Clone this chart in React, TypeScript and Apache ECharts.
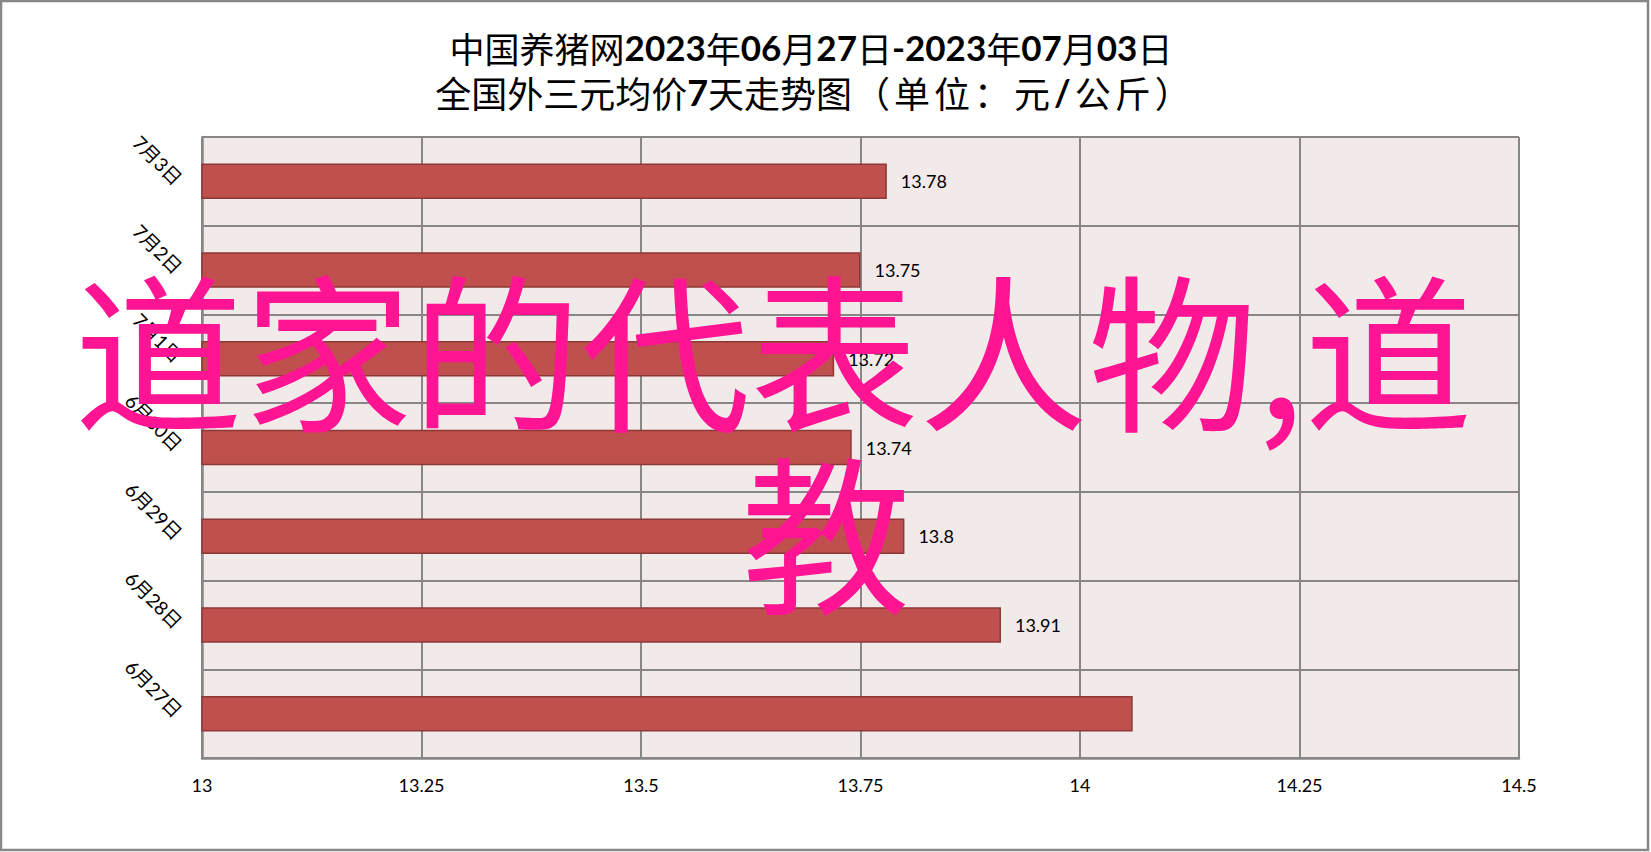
import React, { useEffect, useRef } from "react";
import * as echarts from "echarts";

// ---- data ----
const categories: string[] = ["6月27日", "6月28日", "6月29日", "6月30日", "7月1日", "7月2日", "7月3日"];
const prices: number[] = [14.06, 13.91, 13.8, 13.74, 13.72, 13.75, 13.78];
const hiddenLabelCategories: string[] = ["6月27日"];
const xMin = 13;
const xMax = 14.5;
const xInterval = 0.25;
const titleLine1 = "中国养猪网2023年06月27日-2023年07月03日";
const titleLine2Main = "全国外三元均价7天走势图";
const titleLine2Unit = "（单位：元/公斤）";
const watermarkLines: string[] = ["道家的代表人物,道", "教"];

const LATIN = "Lato, 'Noto Sans CJK SC', sans-serif";
const CJK = "'Noto Sans CJK SC', sans-serif";

function toRich(s: string, spaced = false): string {
  if (spaced) {
    return Array.from(s)
      .map((ch) => (/[0-9\-\/]/.test(ch) ? `{bs|${ch}}` : `{cs|${ch}}`))
      .join("");
  }
  return s.replace(/([0-9\-\/]+)|([^0-9\-\/]+)/g, (m, a) => (a ? `{b|${m}}` : `{c|${m}}`));
}

export default function App() {
  const ref = useRef<HTMLDivElement>(null);
  useEffect(() => {
    if (!ref.current) return;
    const chart = echarts.init(ref.current, undefined, { renderer: "svg" });
    const rich1 = {
      b: { fontFamily: LATIN, fontWeight: "bold", fontSize: 35, fill: "#000" },
      c: { fontFamily: CJK, fontWeight: "normal", fontSize: 35, fill: "#000" },
    };
    const rich2 = {
      b: { fontFamily: LATIN, fontWeight: "bold", fontSize: 36, fill: "#000" },
      c: { fontFamily: CJK, fontWeight: "normal", fontSize: 36, fill: "#000" },
      bs: { fontFamily: LATIN, fontWeight: "bold", fontSize: 36, fill: "#000", padding: [0, 2] },
      cs: { fontFamily: CJK, fontWeight: "normal", fontSize: 36, fill: "#000", padding: [0, 2] },
    };
    chart.setOption({
      animation: false,
      backgroundColor: "#ffffff",
      grid: { left: 202, top: 137, right: 132, bottom: 94, containLabel: false, show: true, backgroundColor: "#F2E9E9", borderWidth: 0 },
      xAxis: {
        type: "value",
        min: xMin,
        max: xMax,
        interval: xInterval,
        axisLine: { show: true, lineStyle: { color: "#878787", width: 2.5 } },
        axisTick: { show: false },
        axisLabel: { fontFamily: LATIN, fontSize: 18, color: "#000", margin: 18 },
        splitLine: { show: true, lineStyle: { color: "#878787", width: 2 } },
      },
      yAxis: {
        type: "category",
        data: categories,
        axisLine: { show: true, lineStyle: { color: "#878787", width: 2.5 } },
        axisTick: { show: false },
        axisLabel: { fontFamily: LATIN, fontSize: 19, color: "#000", rotate: -45, margin: 23 },
        splitLine: { show: true, lineStyle: { color: "#878787", width: 2 } },
      },
      series: [
        {
          type: "bar",
          barWidth: "40%",
          data: prices.map((v, i) => ({
            value: v,
            label: { show: !hiddenLabelCategories.includes(categories[i]) },
          })),
          itemStyle: { color: "#C0504D", borderColor: "#8C3836", borderWidth: 1.5 },
          label: {
            show: true,
            position: "right",
            distance: 14,
            fontFamily: LATIN,
            fontSize: 18,
            color: "#000",
          },
        },
      ],
      graphic: [
        {
          type: "rect",
          z: 200,
          silent: true,
          shape: { x: 1, y: 1, width: 1647, height: 849 },
          style: { fill: "none", stroke: "#888888", lineWidth: 2.5 },
        },
        {
          type: "text",
          x: 811,
          y: 47,
          z: 50,
          style: { text: toRich(titleLine1), rich: rich1, textAlign: "center", textVerticalAlign: "middle" },
        },
        {
          type: "text",
          x: 814,
          y: 92,
          z: 50,
          style: {
            text: toRich(titleLine2Main) + toRich(titleLine2Unit, true),
            rich: rich2,
            textAlign: "center",
            textVerticalAlign: "middle",
          },
        },
        {
          type: "text",
          x: 74,
          y: 345,
          z: 150,
          style: {
            text: watermarkLines[0],
            fontFamily: CJK,
            fontSize: 169,
            fill: "#FF1493",
            textAlign: "left",
            textVerticalAlign: "middle",
          },
        },
        {
          type: "text",
          x: 826,
          y: 527,
          z: 150,
          style: {
            text: watermarkLines[1],
            fontFamily: CJK,
            fontSize: 169,
            fill: "#FF1493",
            textAlign: "center",
            textVerticalAlign: "middle",
          },
        },
      ],
    });
    return () => chart.dispose();
  }, []);
  return <div ref={ref} style={{ position: "absolute", left: 0, top: 0, width: 1651, height: 852 }} />;
}
